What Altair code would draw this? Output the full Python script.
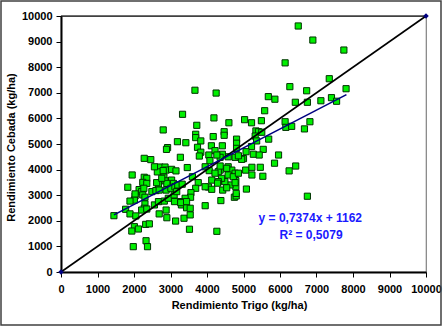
import altair as alt
import pandas as pd

# Rendimiento Trigo (x) / Rendimiento Cebada (y), kg/ha
trigo = [6500, 6900, 7750, 6140, 7350, 6270, 6730, 7810, 3670, 4250,
         5680, 5860, 6420, 6750, 7120, 7410, 7550, 5580, 3330, 4190,
         5030, 5220, 5490, 4600, 2800, 3720, 6140, 6160, 6320, 6820,
         6670, 5340, 5410, 5500, 4470, 4470, 3690, 3690, 3830, 4170,
         4810, 4810, 3190, 3420, 5320, 5690, 5360, 4120, 4420, 3740,
         2920, 2890, 4810, 5220, 5540, 5070, 5270, 5430, 5960, 4580,
         4770, 5000, 4420, 4220, 3830, 3790, 3270, 2280, 2460, 4050,
         4360, 4950, 5850, 6250, 6430, 6750, 5080, 4380, 4750, 4800,
         4270, 5060, 5230, 5460, 5230, 5530, 4790, 4790, 4630, 4490,
         4400, 4310, 4360, 4580, 4680, 4770, 4580, 4720, 4310, 2710,
         2850, 2640, 2880, 3030, 3150, 3460, 1950, 2280, 2350, 2240,
         2350, 2820, 2850, 3030, 3080, 2670, 2900, 1830, 2140, 2210,
         2270, 2240, 2300, 2490, 2600, 2690, 3600, 3760, 3690, 3560,
         3550, 3400, 3270, 3300, 3950, 4130, 4290, 4040, 2880, 3010,
         3120, 3200, 3320, 2030, 2010, 1890, 1770, 2300, 2280, 2210,
         2350, 2560, 2670, 2830, 2940, 3100, 3170, 1450, 1890, 2050,
         2690, 2900, 3140, 3370, 3440, 3540, 3950, 3520, 2010, 1940,
         2120, 2320, 2420, 2330, 1980, 2370, 2030, 4270, 4860, 2560,
         2800, 2620, 2760, 4080, 4060, 4220, 4360, 4540, 4860, 3110,
         3280, 3440, 3950, 4130, 4430, 4540, 4770, 4800, 2880, 3540]
cebada = [9610, 9060, 8670, 8170, 7550, 7240, 7080, 7160, 7100, 6990,
          6850, 6750, 6630, 6630, 6690, 6810, 6670, 6300, 6160, 6020,
          5950, 5830, 5910, 5830, 5550, 5730, 5870, 5650, 5690, 5870,
          5590, 5510, 5480, 5460, 5480, 5340, 5380, 5250, 5120, 5290,
          5190, 5030, 5090, 5050, 5310, 5190, 5120, 4930, 4930, 4870,
          4860, 4790, 4830, 4900, 4790, 4700, 4600, 4570, 4570, 4500,
          4480, 4430, 4600, 4740, 4680, 4530, 4480, 4440, 4390, 4570,
          4480, 4400, 4250, 3950, 4140, 2960, 3240, 2790, 2920, 2970,
          1590, 3980, 4090, 4090, 3790, 3740, 3330, 3570, 3400, 3530,
          3660, 3530, 3980, 4110, 3980, 3860, 3790, 3720, 3920, 4100,
          4100, 3910, 3980, 4010, 3950, 4080, 3790, 3700, 3660, 3500,
          3460, 3710, 3560, 3590, 3460, 3440, 3460, 3310, 3220, 3140,
          3270, 3010, 2920, 3140, 3180, 3200, 3720, 3490, 3270, 3100,
          2920, 2880, 2750, 2620, 4110, 3590, 3470, 3320, 3200, 3270,
          3330, 3400, 3430, 2970, 2810, 2770, 2450, 2660, 2490, 2420,
          2460, 2620, 2750, 2770, 2880, 3010, 3140, 2200, 2270, 2190,
          2270, 2120, 1990, 2100, 2510, 2490, 2590, 1670, 1770, 1600,
          1680, 1860, 1880, 1220, 990, 990, 3050, 4570, 4540, 4110,
          3960, 3490, 3660, 4350, 3960, 3860, 4140, 4050, 3860, 2750,
          2710, 2750, 3330, 3230, 3200, 3290, 3490, 3070, 2420, 2230]

reg_slope = 0.7374
reg_intercept = 1162
reg_x = [1450, 7820]
line_11 = [0, 10000]
eq_text = ["y = 0,7374x + 1162", "R² = 0,5079"]
eq_x = [6830, 6850]
eq_y = [2110, 1440]
ticks = list(range(0, 10001, 1000))

pts = pd.DataFrame({"trigo": trigo, "cebada": cebada})
reg = pd.DataFrame({"trigo": reg_x,
                    "cebada": [reg_slope * v + reg_intercept for v in reg_x]})
ref = pd.DataFrame({"trigo": line_11, "cebada": line_11})
ann = pd.DataFrame({"trigo": eq_x, "cebada": eq_y, "t": eq_text})

FONT = "Liberation Sans"
xs = alt.Scale(domain=[0, 10000], nice=False, zero=False)
ys = alt.Scale(domain=[0, 10000], nice=False, zero=False)

common_axis = dict(values=ticks, grid=False, labelFont=FONT, labelFontWeight="bold",
                   labelFontSize=11, labelColor="black", tickColor="black", tickSize=5,
                   tickWidth=1, domainColor="black", domainWidth=2, labelOverlap=False,
                   labelFlush=False, titleFont=FONT, titleFontSize=11,
                   titleFontWeight="bold", titleColor="black", format="d")

x_axis = alt.Axis(title="Rendimiento Trigo (kg/ha)", labelPadding=6,
                  titleX=178, titleY=33, titleBaseline="middle", **common_axis)
y_axis = alt.Axis(title="Rendimiento Cebada (kg/ha)", labelPadding=4,
                  titleX=-50, titleY=131, titleAngle=270, titleBaseline="middle",
                  titleAlign="center", **common_axis)

X = alt.X("trigo:Q", scale=xs, axis=x_axis)
Y = alt.Y("cebada:Q", scale=ys, axis=y_axis)

frame = alt.Chart(pd.DataFrame({"a": [0]})).mark_rect(
    fillOpacity=0, stroke="#404040", strokeWidth=1.5
).encode(x=alt.value(-60), x2=alt.value(380), y=alt.value(-15), y2=alt.value(309))

top_rule = alt.Chart(pd.DataFrame({"a": [0]})).mark_rule(
    color="black", strokeWidth=1.2
).encode(x=alt.value(0), x2=alt.value(365), y=alt.value(0))

points = alt.Chart(pts).mark_square(
    size=38, filled=True, color="#00f000", stroke="#003300", strokeWidth=1, opacity=1
).encode(x=X, y=Y)

ref_line = alt.Chart(ref).mark_line(color="black", strokeWidth=1.6).encode(x=X, y=Y)
ref_pts = alt.Chart(ref).mark_point(
    shape="diamond", filled=True, color="#000080", size=30, opacity=1
).encode(x=X, y=Y)
reg_line = alt.Chart(reg).mark_line(color="#000080", strokeWidth=1.6).encode(x=X, y=Y)

text = alt.Chart(ann).mark_text(
    font=FONT, fontWeight="bold", fontSize=12, color="#1a1aff",
    align="center", baseline="middle"
).encode(x=X, y=Y, text="t:N")

chart = alt.layer(frame, top_rule, points, ref_line, reg_line, ref_pts, text).properties(
    width=365, height=256,
    autosize=alt.AutoSizeParams(type="none"),
    padding={"left": 61, "top": 16, "right": 17, "bottom": 55},
    background="white",
).configure_view(stroke="#808080", strokeWidth=1.2)

chart.save("out.html", embed_options={"renderer": "svg", "actions": False})
